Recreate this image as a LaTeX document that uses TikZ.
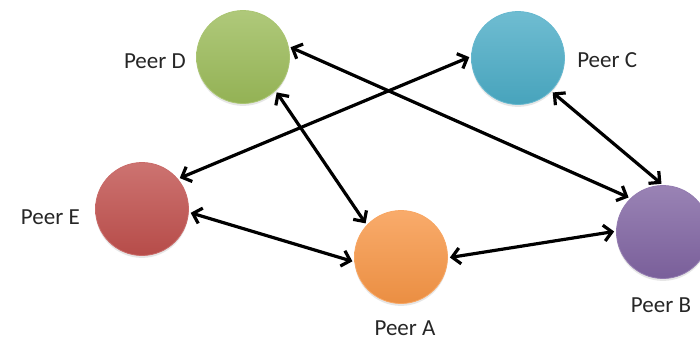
\documentclass[tikz,border=0pt]{standalone}
\usepackage{fontspec}
\setmainfont{Carlito}
\usepackage{xcolor}
\usetikzlibrary{positioning}
\usetikzlibrary{arrows.meta}
\usetikzlibrary{shadows}

\definecolor{peergreen}{HTML}{9BBB59}
\definecolor{peerblue}{HTML}{4BACC6}
\definecolor{peerred}{HTML}{C0504D}
\definecolor{peerorange}{HTML}{F79646}
\definecolor{peerpurple}{HTML}{8064A2}

\begin{document}
\begin{tikzpicture}[x=0.5pt, y=0.5pt, >={Straight Barb[length=4pt,width=8pt]},
      peer/.style={circle, minimum size=46.5pt, inner sep=0pt, draw=#1!85!white, line width=0.4pt,
        top color=#1!80!white, bottom color=#1!95!black,
        drop shadow={opacity=0.2, shadow xshift=0pt, shadow yshift=-1.2pt}},
      lbl/.style={font=\fontsize{11.5}{13}\selectfont, text=black!85, inner sep=0pt},
      link/.style={line width=1.6pt, shorten >=1pt, shorten <=1pt}]

      \useasboundingbox (0,0) rectangle (700,339);

      \node[peer=peergreen] (D) at (243,282) {};
      \node[peer=peerblue] (C) at (518,281) {};
      \node[peer=peerred] (E) at (142,130) {};
      \node[peer=peerorange] (A) at (401,82) {};
      \node[peer=peerpurple] (B) at (663,107) {};

      \node[lbl] (labD) [left=5pt of D, yshift=-2pt] {Peer D};
      \node[lbl] (labC) [right=6pt of C, yshift=-1pt] {Peer C};
      \node[lbl] (labE) [left=7.5pt of E, yshift=-4pt] {Peer E};
      \node[lbl] (labA) [below=8pt of A, xshift=2pt] {Peer A};
      \node[lbl] (labB) [below=9pt of B, xshift=-1pt] {Peer B};

      \path[<->, link]
        (D.-46) edge (A.137)
        (D.13) edge (B.134)
        (E.40) edge (C.178)
        (E.-4) edge (A.186)
        (A.-1) edge (B.179)
        (C.-45) edge (B.90)
        ;

\end{tikzpicture}
\end{document}
